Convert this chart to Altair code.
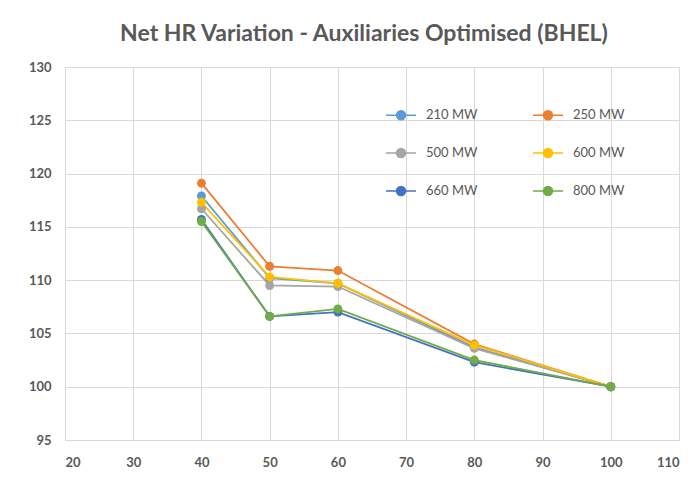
import altair as alt
import pandas as pd

loads = [40, 50, 60, 80, 100]
series = ["210 MW", "250 MW", "500 MW", "600 MW", "660 MW", "800 MW"]
colors = ["#5B9BD5", "#ED7D31", "#A5A5A5", "#FFC000", "#4472C4", "#70AD47"]
values = {
    "210 MW": [117.9, 110.2, 109.7, 103.7, 100.0],
    "250 MW": [119.1, 111.3, 110.9, 104.0, 100.0],
    "500 MW": [116.7, 109.5, 109.4, 103.6, 100.0],
    "600 MW": [117.3, 110.3, 109.7, 103.9, 100.0],
    "660 MW": [115.7, 106.6, 107.0, 102.3, 100.0],
    "800 MW": [115.5, 106.6, 107.3, 102.5, 100.0],
}
x_ticks = [20, 30, 40, 50, 60, 70, 80, 90, 100, 110]
y_ticks = [95, 100, 105, 110, 115, 120, 125, 130]

rows = []
for i, s in enumerate(series):
    for x, y in zip(loads, values[s]):
        rows.append({"load": x, "hr": y, "series": s, "order": i})
df = pd.DataFrame(rows)

FONT = "Lato"
GRAY = "#595959"

sym = "M-1,0H1M0.3,0A0.3,0.3 0 1,1 -0.3,0A0.3,0.3 0 1,1 0.3,0Z"

color = alt.Color(
    "series:N",
    scale=alt.Scale(domain=series, range=colors),
    sort=series,
    legend=alt.Legend(
        title=None,
        orient="none",
        direction="horizontal",
        legendX=320,
        legendY=32,
        columns=2,
        symbolType=sym,
        symbolSize=900,
        symbolStrokeWidth=1.5,
        labelFont=FONT,
        labelFontSize=13,
        labelColor=GRAY,
        labelOffset=9,
        columnPadding=52,
        rowPadding=14,
        labelExpr="datum.label == '250 MW' ? ' 250 MW' : datum.label",
    ),
)

x = alt.X(
    "load:Q",
    scale=alt.Scale(domain=[20, 110], nice=False, zero=False),
    axis=alt.Axis(
        values=x_ticks, title=None, grid=True, gridColor="#D9D9D9",
        ticks=False, domainColor="#D9D9D9", labelFont=FONT, labelFontSize=13,
        labelFontWeight="bold", labelColor=GRAY, labelPadding=16,
    ),
)
y = alt.Y(
    "hr:Q",
    scale=alt.Scale(domain=[95, 130], nice=False, zero=False),
    axis=alt.Axis(
        values=y_ticks, title=None, grid=True, gridColor="#D9D9D9",
        ticks=False, domainColor="#D9D9D9", labelFont=FONT, labelFontSize=13,
        labelFontWeight="bold", labelColor=GRAY, labelPadding=14,
    ),
)

base = alt.Chart(df)
lines = base.mark_line(strokeWidth=1.8).encode(
    x=x, y=y, color=color, detail="series:N", order="load:Q"
)
points = base.mark_point(filled=True, size=80, opacity=1).encode(
    x=x, y=y, color=color
)

chart = (
    alt.layer(lines, points)
    .properties(
        width=614,
        height=373,
        title=alt.TitleParams(
            "Net HR Variation - Auxiliaries Optimised (BHEL)",
            font=FONT, fontSize=23, fontWeight="bold", color=GRAY,
            anchor="middle", offset=15, dx=-8,
        ),
        autosize=alt.AutoSizeParams(type="none"),
        padding={"left": 57, "top": 59, "right": 5, "bottom": 30},
    )
    .configure_view(stroke=None)
    .configure(background="white")
)

chart.save("out.html", embed_options={"renderer": "svg", "actions": False})
